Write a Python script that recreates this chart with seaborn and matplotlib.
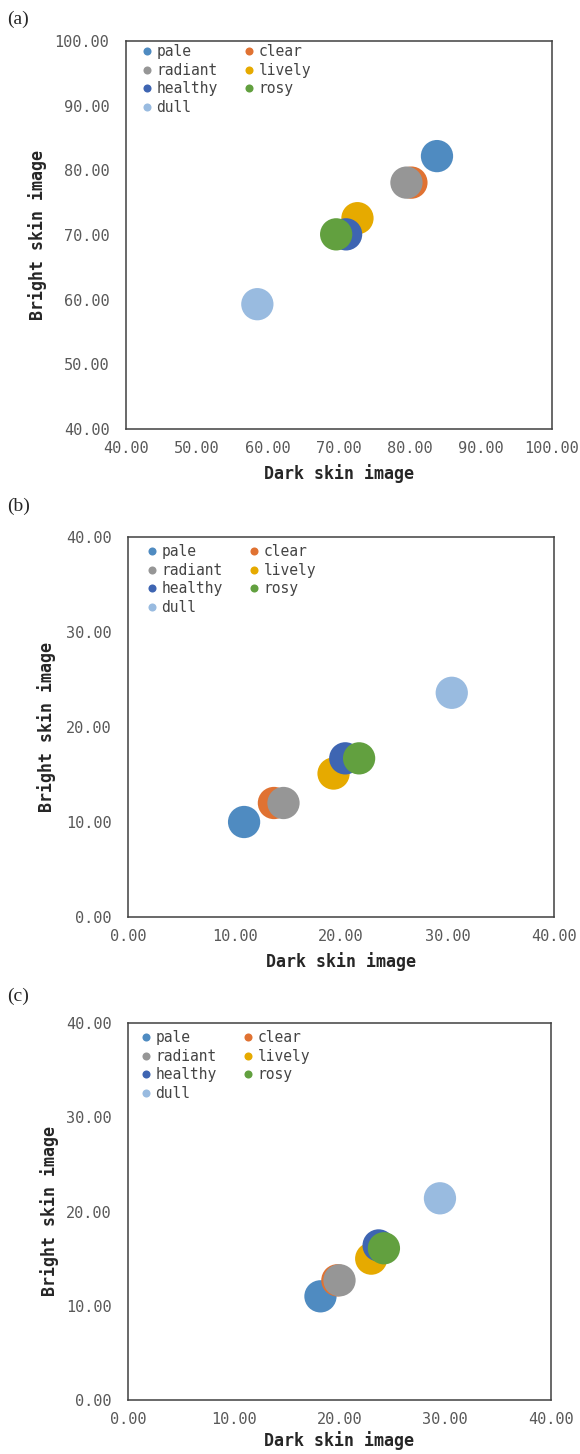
import numpy as np
import pandas as pd
import matplotlib.pyplot as plt
import seaborn as sns

# Skin image words and their colours
words = ["pale", "clear", "radiant", "lively", "healthy", "rosy", "dull"]
colors = ["#4F8BC1", "#E07232", "#969696", "#E6AA00", "#3E65B2", "#62A03F", "#99BBE0"]

# (a)
dark_a = [83.8, 80.2, 79.5, 72.6, 71.0, 69.6, 58.5]
bright_a = [82.2, 78.1, 78.1, 72.6, 70.1, 70.1, 59.3]

# (b)
dark_b = [10.9, 13.7, 14.6, 19.3, 20.4, 21.7, 30.4]
bright_b = [10.0, 12.0, 12.0, 15.1, 16.7, 16.7, 23.6]

# (c)
dark_c = [18.2, 19.8, 20.0, 23.0, 23.7, 24.2, 29.5]
bright_c = [11.0, 12.7, 12.7, 15.0, 16.4, 16.1, 21.4]

panels = [
    ("(a)", dark_a, bright_a, [40, 100], np.arange(40, 101, 10)),
    ("(b)", dark_b, bright_b, [0, 40], np.arange(0, 41, 10)),
    ("(c)", dark_c, bright_c, [0, 40], np.arange(0, 41, 10)),
]

sns.set_style("white")
plt.rcParams['font.family'] = ['DejaVu Sans Mono', 'DejaVu Sans']

W, H = 580, 1454
fig = plt.figure(figsize=(W / 100, H / 100), dpi=100)

# layout in pixels: axes box (left, top, right, bottom), label anchors, legend inset
boxes = [(126, 41, 552, 429), (128, 537, 554, 917), (128, 1023, 551, 1400)]
ylab_x = [-0.185, -0.170, -0.164]
xlab_y = [-0.090, -0.092, -0.082]
leg_in = [(21, 12), (24, 16), (18, 16)]
tag_y = [19, 506, 996]

palette = dict(zip(words, colors))
order = ["pale", "radiant", "healthy", "dull", "clear", "lively", "rosy"]

for (tag, xs, ys, lim, ticks), (l, t, r, b), lx, ly, (ix, iy), ty in zip(
        panels, boxes, ylab_x, xlab_y, leg_in, tag_y):
    w, h = r - l, b - t
    ax = fig.add_axes([l / W, 1 - b / H, w / W, h / H])
    df = pd.DataFrame({"word": words, "dark": xs, "bright": ys})
    sns.scatterplot(data=df, x="dark", y="bright", hue="word", palette=palette,
                    s=540, linewidth=0, alpha=1, ax=ax, legend=True)
    ax.set_xlim(lim)
    ax.set_ylim(lim)
    ax.set_xticks(ticks)
    ax.set_yticks(ticks)
    ax.set_xticklabels([f"{v:.2f}" for v in ticks])
    ax.set_yticklabels([f"{v:.2f}" for v in ticks])
    ax.tick_params(axis="x", direction="in", length=5, width=0.8, color="#888888",
                   labelsize=11, labelcolor="#595959", pad=8.5)
    ax.tick_params(axis="y", direction="in", length=4, width=0.8, color="#888888",
                   labelsize=11, labelcolor="#595959", pad=12)
    for sp in ax.spines.values():
        sp.set_color("#404040")
        sp.set_linewidth(1.1)
    ax.set_xlabel("Dark skin image", fontsize=12, fontweight="bold")
    ax.set_ylabel("Bright skin image", fontsize=12, fontweight="bold")
    ax.xaxis.set_label_coords(0.5, ly)
    ax.yaxis.set_label_coords(lx, 0.5)

    # legend filled row by row like the original
    handles, labels = ax.get_legend_handles_labels()
    hmap = dict(zip(labels, handles))
    ax.legend([hmap[k] for k in order], order, ncol=2, loc="upper left",
              bbox_to_anchor=((ix - 3.6) / w, 1 - (iy - 9) / h),
              frameon=False, fontsize=10.5, markerscale=0.25,
              handlelength=0.5, handletextpad=0.4, columnspacing=1.9,
              labelspacing=0.25, borderpad=0, borderaxespad=0,
              labelcolor="#444444")

    fig.text(7 / W, 1 - ty / H, tag, family="Liberation Serif", fontsize=14,
             va="center", ha="left")

fig.savefig("out.png", dpi=100)
